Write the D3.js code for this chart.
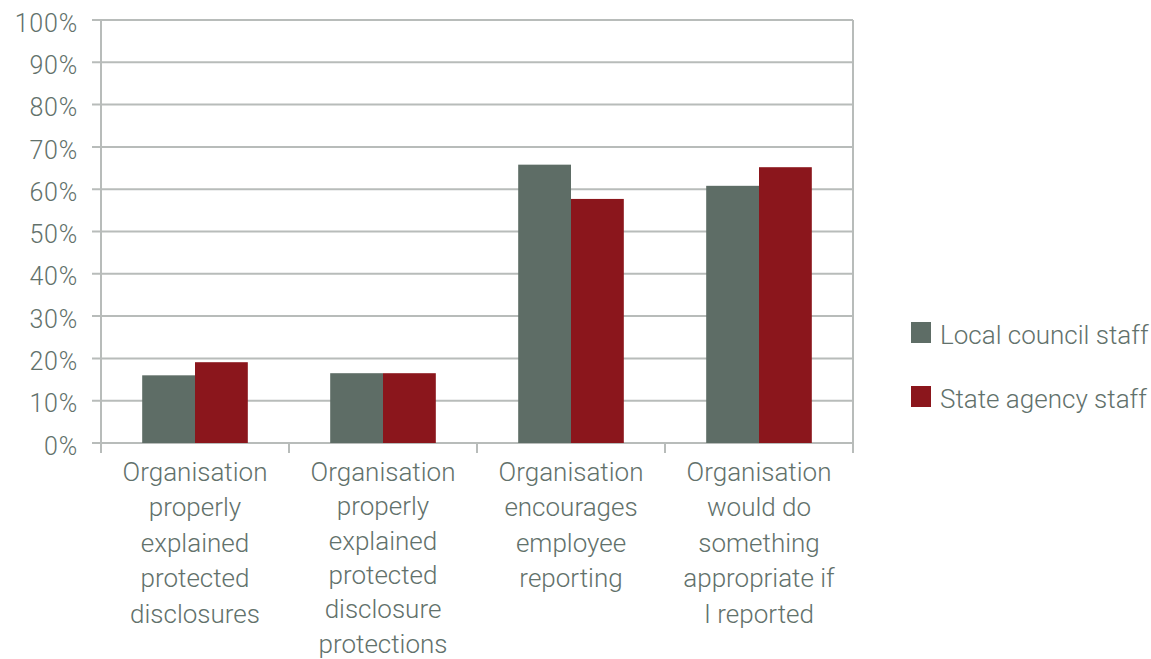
<!DOCTYPE html>
<html>
<head>
<meta charset="utf-8">
<script src="https://cdn.jsdelivr.net/npm/d3@7"></script>
<style>
  html, body { margin: 0; padding: 0; background: #fff; }
  svg text { font-family: Roboto, "Liberation Sans", sans-serif; font-weight: 300; fill: #62716b; }
</style>
</head>
<body>
<svg id="chart" width="1151" height="659"></svg>
<script>
// Survey questions (multi-line category labels)
const categories = [
  ["Organisation", "properly", "explained", "protected", "disclosures"],
  ["Organisation", "properly", "explained", "protected", "disclosure", "protections"],
  ["Organisation", "encourages", "employee", "reporting"],
  ["Organisation", "would do", "something", "appropriate if", "I reported"]
];
const seriesNames = ["Local council staff", "State agency staff"];
const localCouncil = [16, 16.5, 65.8, 60.8];
const stateAgency = [19.1, 16.5, 57.7, 65.2];
const yTicks = [0, 10, 20, 30, 40, 50, 60, 70, 80, 90, 100];
const colors = ["#5e6d66", "#8b161c"];

const svg = d3.select("#chart");
const plot = { left: 101, right: 853, top: 20, bottom: 443 };

const x0 = d3.scaleBand()
  .domain(d3.range(categories.length))
  .range([plot.left, plot.right])
  .paddingInner(0).paddingOuter(0);

const x1 = d3.scaleBand()
  .domain(d3.range(seriesNames.length))
  .range([0, x0.bandwidth()])
  .paddingOuter(0.78).paddingInner(0);

const y = d3.scaleLinear().domain([0, 100]).range([plot.bottom, plot.top]);

const gridColor = "#b8bcba";

// horizontal gridlines with small outside ticks
svg.append("g")
  .selectAll("line")
  .data(yTicks)
  .join("line")
  .attr("x1", plot.left - 9)
  .attr("x2", plot.right)
  .attr("y1", d => y(d))
  .attr("y2", d => y(d))
  .attr("stroke", gridColor)
  .attr("stroke-width", 2);

// y tick labels
svg.append("g")
  .selectAll("text")
  .data(yTicks)
  .join("text")
  .attr("x", 78)
  .attr("y", d => y(d) + 5)
  .attr("text-anchor", "end")
  .attr("dominant-baseline", "middle")
  .attr("font-size", 25)
  .attr("letter-spacing", 0.8)
  .text(d => d + "%");

// bars
const groups = svg.append("g")
  .selectAll("g")
  .data(categories.map((c, i) => [localCouncil[i], stateAgency[i]]))
  .join("g")
  .attr("transform", (d, i) => `translate(${x0(i)},0)`);

groups.selectAll("rect")
  .data(d => d)
  .join("rect")
  .attr("x", (d, j) => x1(j))
  .attr("width", x1.bandwidth())
  .attr("y", d => y(d))
  .attr("height", d => y(0) - y(d))
  .attr("fill", (d, j) => colors[j]);

// left axis line and right plot border
[plot.left, plot.right].forEach(xv => {
  svg.append("line")
    .attr("x1", xv).attr("x2", xv)
    .attr("y1", plot.top).attr("y2", plot.bottom)
    .attr("stroke", gridColor).attr("stroke-width", 2);
});

// category boundary ticks below the baseline
const boundaries = d3.range(categories.length + 1).map(i => i < categories.length ? x0(i) : plot.right);
svg.append("g")
  .selectAll("line")
  .data(boundaries)
  .join("line")
  .attr("x1", d => d).attr("x2", d => d)
  .attr("y1", plot.bottom).attr("y2", plot.bottom + 10)
  .attr("stroke", gridColor).attr("stroke-width", 2);

// category labels; the six-line label is set slightly tighter
svg.append("g")
  .selectAll("text")
  .data(categories)
  .join("text")
  .attr("text-anchor", "middle")
  .attr("font-size", 26)
  .attr("transform", (d, i) => `translate(${x0(i) + x0.bandwidth() / 2},481)`)
  .each(function (lines) {
    const lh = lines.length > 5 ? 34.3 : 35.4;
    d3.select(this)
      .selectAll("tspan")
      .data(lines)
      .join("tspan")
      .attr("x", 0)
      .attr("y", (d, k) => k * lh)
      .text(d => d);
  });

// legend
const legend = svg.append("g")
  .selectAll("g")
  .data(seriesNames)
  .join("g")
  .attr("transform", (d, i) => `translate(911,${322 + i * 64})`);

legend.append("rect")
  .attr("width", 20).attr("height", 21)
  .attr("fill", (d, i) => colors[i]);

legend.append("text")
  .attr("x", 29)
  .attr("y", 22)
  .attr("font-size", 26)
  .text(d => d);
</script>
</body>
</html>
